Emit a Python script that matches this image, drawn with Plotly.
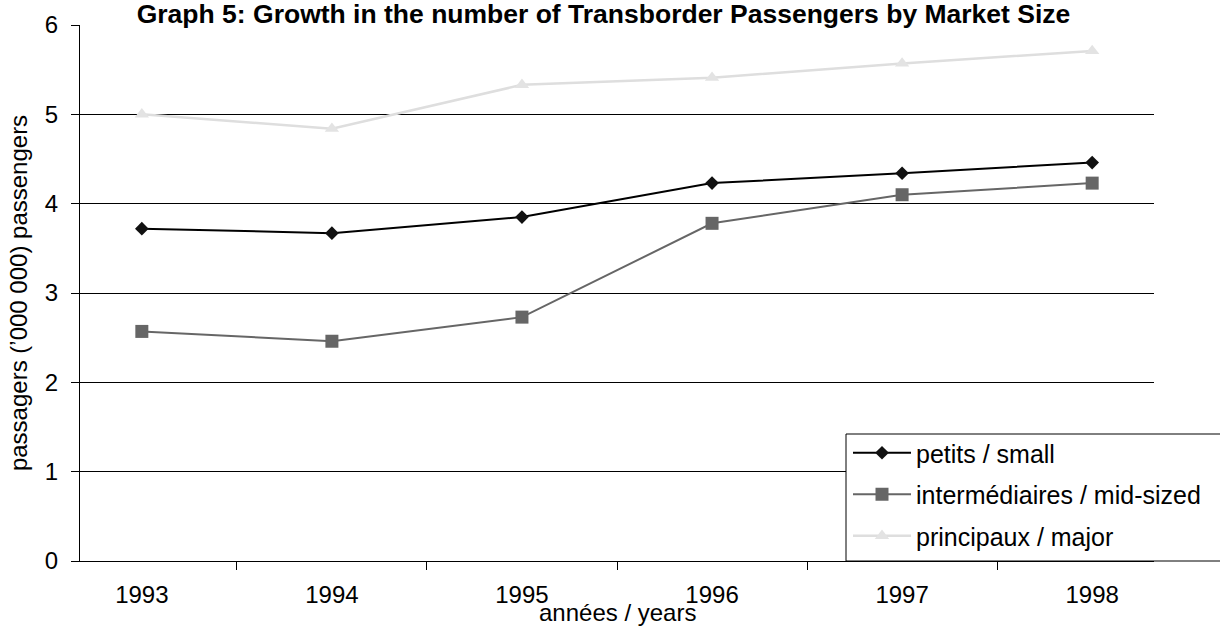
import plotly.graph_objects as go

years = ["1993", "1994", "1995", "1996", "1997", "1998"]
small = [3.72, 3.67, 3.85, 4.23, 4.34, 4.46]
mid_sized = [2.57, 2.46, 2.73, 3.78, 4.10, 4.23]
major = [5.00, 4.84, 5.33, 5.41, 5.57, 5.71]

FONT = "Liberation Sans, Arial, sans-serif"
W, H = 1220, 628
L, R, T, B = 80, 66, 25, 67

fig = go.Figure()
fig.add_trace(go.Scatter(x=years, y=small, name="petits / small", legendgroup="a",
                         mode="lines+markers",
                         line=dict(color="#000000", width=2),
                         marker=dict(symbol="diamond", size=10.5, color="#111111")))
fig.add_trace(go.Scatter(x=years, y=mid_sized, name="intermédiaires / mid-sized", legendgroup="b",
                         mode="lines+markers",
                         line=dict(color="#666666", width=2),
                         marker=dict(symbol="square", size=13, color="#666666")))
fig.add_trace(go.Scatter(x=years, y=major, name="principaux / major", legendgroup="c",
                         mode="lines+markers",
                         line=dict(color="#dedede", width=2.5),
                         marker=dict(symbol="triangle-up", size=12.5, color="#e3e3e3")))

pw = W - L - R
ph = H - T - B

# legend frame (extends past the right edge like the original)
fig.add_shape(type="rect", xref="paper", yref="paper",
              x0=(846 - L) / pw, x1=(1230 - L) / pw,
              y0=(H - B - 561) / ph, y1=(H - B - 434) / ph,
              line=dict(color="black", width=1), fillcolor="white", layer="above")

fig.add_annotation(text="années / years", xref="paper", yref="paper",
                   x=0.5, xanchor="center", y=-(628 - (H - B)) / ph, yanchor="bottom",
                   showarrow=False, font=dict(family=FONT, size=24, color="black"))

fig.update_layout(
    width=W, height=H,
    margin=dict(l=L, r=R, t=T, b=B),
    paper_bgcolor="white", plot_bgcolor="white",
    font=dict(family=FONT, size=24, color="black"),
    title=dict(text="<b>Graph 5: Growth in the number of Transborder Passengers by Market Size</b>",
               x=603.5 / W, xanchor="center", y=1 - 14 / H, yanchor="middle", yref="container",
               font=dict(family=FONT, size=26.5, color="black")),
    showlegend=True,
    legend=dict(x=(848 - L) / pw, xanchor="left", y=(H - B - 430) / ph,
                yanchor="top", bgcolor="rgba(0,0,0,0)", borderwidth=0,
                font=dict(family=FONT, size=25, color="black"), tracegroupgap=6,
                itemwidth=58),
    xaxis=dict(type="category", showgrid=False, showline=True, linecolor="black", linewidth=1,
               ticks="outside", tickson="boundaries", ticklen=8, tickcolor="black",
               tickfont=dict(size=24), ticklabelstandoff=12, automargin=False, fixedrange=True),
    yaxis=dict(range=[0, 6], tickvals=[0, 1, 2, 3, 4, 5, 6], showgrid=False, zeroline=False,
               showline=True, linecolor="black", linewidth=1, ticks="outside", ticklen=8,
               tickcolor="black", tickfont=dict(size=24), ticklabelstandoff=8, automargin=False,
               fixedrange=True,
               minor=dict(tickvals=[1, 2, 3, 4, 5], showgrid=True, gridcolor="black", gridwidth=1, ticks=""),
               title=dict(text="passagers (’000 000) passengers", font=dict(size=24), standoff=10)),
)

fig.write_html("out.html", config={"displayModeBar": False},
               post_script="document.body.style.margin='0';")
